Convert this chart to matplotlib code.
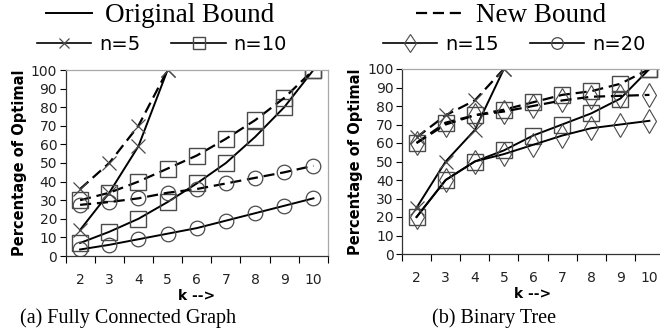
import numpy as np
import matplotlib
matplotlib.use("Agg")
import matplotlib.pyplot as plt
from matplotlib.lines import Line2D

# values
k_all = [2, 3, 4, 5, 6, 7, 8, 9, 10]
k_n5 = [2, 3, 4, 5]

# (a) fully connected graph
fc_n5_orig = [14, 34, 59, 100]
fc_n5_new = [36, 50, 70, 100]
fc_n10_orig = [7, 13, 20, 29, 39, 50, 64, 80, 100]
fc_n10_new = [30, 34, 40, 47, 54, 63, 73, 85, 100]
fc_n20_orig = [3.5, 6, 9, 12, 15, 19, 23, 27, 31]
fc_n20_new = [27.5, 29, 31, 34, 36, 39, 42, 45, 48.5]

# (b) binary tree
bt_n5_orig = [25, 50, 67, 100]
bt_n5_new = [63, 75, 83, 100]
bt_n10_orig = [20, 40, 50, 56, 64, 70, 76, 84, 100]
bt_n10_new = [60, 71, 75, 78, 82, 86, 88, 92, 100]
bt_n15_orig = [20, 40, 50, 54, 59, 64, 68, 70, 72]
bt_n15_new = [60, 70, 75, 77, 80, 83, 85, 85.5, 86]

yticks = list(range(0, 101, 10))
captions = ["(a) Fully Connected Graph", "(b) Binary Tree"]

MC = "#4a4a4a"
DASH = (0, (5, 2.6))
SANS = "DejaVu Sans"
SERIF = "Liberation Serif"

markers = {"x": dict(marker="x", ms=9.5, mew=0.9),
           "s": dict(marker="s", ms=11, mew=1.0),
           "o": dict(marker="o", ms=10.5, mew=0.9),
           "d": dict(marker="d", ms=12, mew=0.8)}


def plot_pair(ax, x, orig, new, m):
    st = markers[m]
    ax.plot(x, orig, color="black", lw=1.4, ls="-", mfc="none", mec=MC, **st)
    ax.plot(x, new, color="black", lw=1.6, ls=DASH, mfc="none", mec=MC, **st)


def style_axes(ax):
    ax.set_xlim(1.5, 10.5)
    ax.set_ylim(0, 100)
    ax.set_yticks(yticks)
    ax.set_yticklabels([str(v) for v in yticks], fontsize=10, family=SANS, color="#222222")
    ax.set_xticks(np.arange(1.5, 10.6, 1.0))
    ax.set_xticklabels([])
    ax.set_xticks(k_all, minor=True)
    ax.set_xticklabels([str(v) for v in k_all], minor=True, fontsize=10, family=SANS,
                       color="#222222")
    ax.tick_params(axis="x", which="major", direction="out", length=5, width=0.8)
    ax.tick_params(axis="x", which="minor", length=0, pad=12)
    ax.tick_params(axis="y", direction="out", length=4, width=0.8, pad=2)
    for s in ("top", "right"):
        ax.spines[s].set_color("#a8a8a8")
        ax.spines[s].set_linewidth(0.9)
    for s in ("left", "bottom"):
        ax.spines[s].set_color("#333333")
        ax.spines[s].set_linewidth(0.9)
    ax.set_ylabel("Percentage of Optimal", fontsize=10.5, fontweight="bold", family=SANS,
                  labelpad=3)
    ax.set_xlabel("k -->", fontsize=10, fontweight="bold", family=SANS, labelpad=2)


fig = plt.figure(figsize=(6.6, 3.34), dpi=100)
ax1 = fig.add_axes([65.5 / 660, 78 / 334, 262.5 / 660, 186 / 334])
ax2 = fig.add_axes([402 / 660, 80 / 334, 262 / 660, 185 / 334])

plot_pair(ax1, k_n5, fc_n5_orig, fc_n5_new, "x")
plot_pair(ax1, k_all, fc_n10_orig, fc_n10_new, "s")
plot_pair(ax1, k_all, fc_n20_orig, fc_n20_new, "o")

plot_pair(ax2, k_n5, bt_n5_orig, bt_n5_new, "x")
plot_pair(ax2, k_all, bt_n10_orig, bt_n10_new, "s")
plot_pair(ax2, k_all, bt_n15_orig, bt_n15_new, "d")

for ax in (ax1, ax2):
    style_axes(ax)

fig.text(128 / 660, 1 - 318 / 334, captions[0], ha="center", va="center",
         fontsize=14.5, family=SERIF)
fig.text(494 / 660, 1 - 318 / 334, captions[1], ha="center", va="center",
         fontsize=14.5, family=SERIF)

# legends on top
h_orig = Line2D([], [], color="black", lw=1.4)
h_new = Line2D([], [], color="black", lw=1.6, ls=(0, (5, 2.6)))
leg_kw = dict(frameon=False, loc="center", borderpad=0, borderaxespad=0)
fig.legend([h_orig], ["Original Bound"], bbox_to_anchor=(160 / 660, 1 - 16 / 334),
           prop={"family": SERIF, "size": 19.5}, handlelength=1.7, handletextpad=0.5,
           **leg_kw)
fig.legend([h_new], ["New Bound"], bbox_to_anchor=(511 / 660, 1 - 16 / 334),
           prop={"family": SERIF, "size": 19.5}, handlelength=1.7, handletextpad=0.5,
           **leg_kw)


def mk(m):
    st = dict(markers[m])
    st["ms"] = st["ms"] * 0.8
    return Line2D([], [], color="black", lw=1.2, mfc="none", mec=MC, **st)


fig.legend([mk("x"), mk("s")], ["n=5", "n=10"], ncol=2,
           bbox_to_anchor=(162 / 660, 1 - 44 / 334),
           prop={"family": SANS, "size": 14}, handlelength=2.8, handletextpad=0.4,
           columnspacing=1.6, **leg_kw)
fig.legend([mk("d"), mk("o")], ["n=15", "n=20"], ncol=2,
           bbox_to_anchor=(514 / 660, 1 - 44 / 334),
           prop={"family": SANS, "size": 14}, handlelength=2.8, handletextpad=0.4,
           columnspacing=1.6, **leg_kw)

fig.savefig("out.png", dpi=100)
